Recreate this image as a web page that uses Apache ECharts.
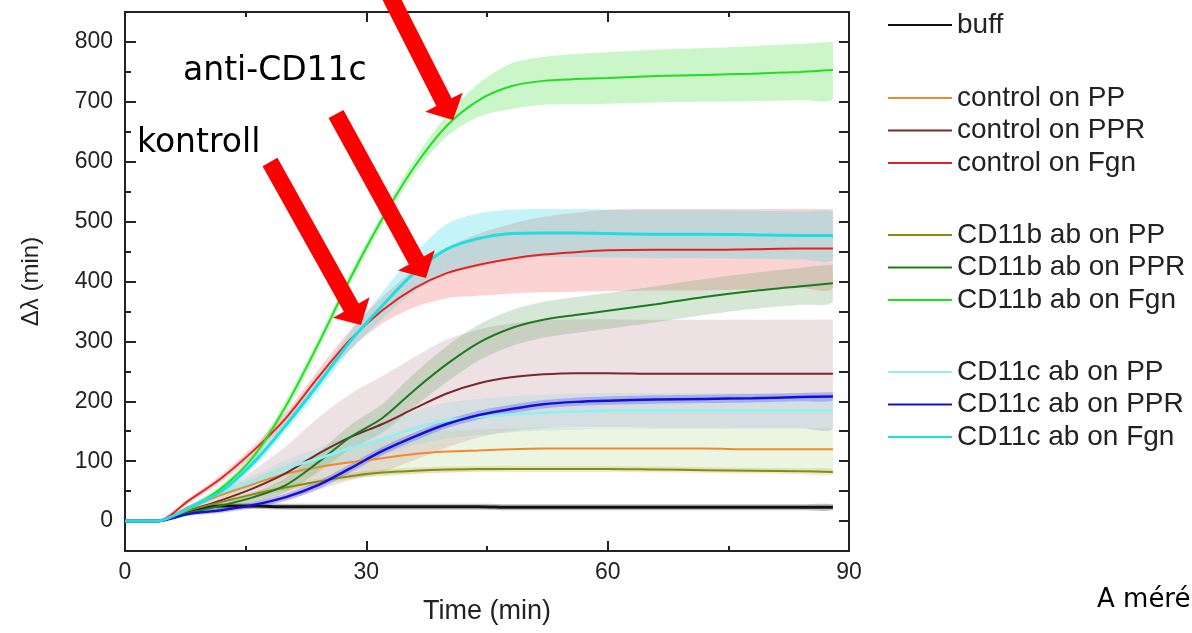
<!DOCTYPE html>
<html lang="hu">
<head>
    <meta charset="UTF-8">
    <title>Kötődési görbék</title>
    <style>
        body {
            margin: 0;
            padding: 0;
            background: #ffffff;
        }

        #chart-container {
            width: 1192px;
            height: 633px;
        }
    </style>
    <script src="https://cdn.jsdelivr.net/npm/echarts@6.0.0/dist/echarts.min.js"></script>
</head>
<body>
    <div id="chart-container"></div>

    <script>
        // time points (min)
        const times = [0, 4, 8, 12, 16, 20, 24, 28, 32, 36, 40, 44, 48, 52, 56, 60, 66, 72, 78, 84, 88];

        // mean curves
        const buff    = [0, 0, 17, 25, 25, 24, 24, 24, 24, 24, 24, 24, 23, 23, 23, 23, 23, 23, 23, 23, 23];
        const ctrlPP  = [0, 0, 24, 44, 62, 79, 90, 98, 105, 112, 116, 118, 120, 121, 121, 121, 121, 121, 120, 120, 120];
        const ctrlPPR = [0, 0, 18, 35, 55, 80, 112, 140, 162, 188, 213, 230, 240, 245, 247, 247, 246, 246, 246, 246, 246];
        const ctrlFgn = [0, 0, 35, 72, 118, 172, 240, 303, 352, 389, 414, 428, 438, 445, 449, 452, 453, 453, 454, 455, 455];
        const bPP     = [0, 0, 18, 32, 45, 56, 66, 75, 81, 84, 86, 87, 87, 87, 87, 87, 86, 85, 84, 83, 82];
        const bPPR    = [0, 0, 14, 26, 40, 60, 98, 140, 172, 219, 262, 298, 322, 336, 344, 351, 362, 374, 384, 392, 397];
        const bFgn    = [0, 0, 22, 55, 108, 192, 295, 405, 505, 592, 660, 703, 726, 735, 738, 740, 743, 745, 747, 750, 753];
        const cPP     = [0, 0, 22, 48, 66, 88, 104, 122, 137, 155, 168, 174, 178, 181, 183, 184, 184, 184, 184, 184, 184];
        const cPPR    = [0, 0, 12, 18, 27, 40, 60, 88, 117, 141, 162, 177, 187, 195, 199, 201, 203, 204, 205, 207, 208];
        const cFgn    = [0, 0, 22, 50, 98, 160, 228, 300, 360, 415, 454, 472, 480, 481, 481, 480, 479, 479, 478, 477, 477];

        // half widths of the shaded bands
        const buffSd    = [2, 2, 3, 5, 5, 5, 5, 5, 5, 5, 5, 5, 5, 5, 5, 5, 5, 5, 5, 5, 5];
        const ctrlPPSd  = [1, 1, 3, 6, 10, 15, 20, 25, 30, 34, 35, 35, 35, 35, 35, 35, 35, 35, 35, 35, 35];
        const ctrlPPRSd = [1, 1, 5, 15, 30, 45, 60, 72, 80, 86, 90, 90, 90, 90, 90, 90, 90, 90, 90, 90, 90];
        const ctrlFgnSd = [1, 1, 4, 6, 8, 10, 12, 16, 22, 32, 42, 52, 58, 63, 66, 68, 68, 68, 67, 66, 66];
        const bPPSd     = [1, 1, 2, 3, 4, 5, 5, 5, 5, 5, 5, 5, 5, 5, 5, 5, 5, 5, 5, 5, 5];
        const bPPRSd    = [1, 1, 3, 5, 8, 12, 16, 20, 24, 28, 30, 30, 30, 30, 30, 30, 30, 30, 30, 31, 31];
        const bFgnSd    = [1, 1, 4, 6, 8, 10, 10, 10, 10, 12, 18, 28, 38, 40, 42, 43, 44, 45, 46, 47, 47];
        const cPPSd     = [1, 1, 3, 6, 10, 14, 18, 22, 25, 28, 30, 30, 30, 30, 30, 30, 30, 30, 30, 30, 30];
        const cPPRSd    = [1, 1, 3, 4, 5, 6, 7, 7, 7, 7, 7, 7, 7, 7, 7, 7, 7, 7, 7, 7, 7];
        const cFgnSd    = [1, 1, 4, 6, 8, 10, 12, 15, 22, 32, 42, 42, 40, 40, 40, 40, 40, 40, 40, 40, 40];

        const names = ['buff',
            'control on PP', 'control on PPR', 'control on Fgn',
            'CD11b ab on PP', 'CD11b ab on PPR', 'CD11b ab on Fgn',
            'CD11c ab on PP', 'CD11c ab on PPR', 'CD11c ab on Fgn'];

        const xTicks = [0, 30, 60, 90];
        const yTicks = [0, 100, 200, 300, 400, 500, 600, 700, 800];
        const yMinorTicks = [50, 150, 250, 350, 450, 550, 650, 750];

        const means = [buff, ctrlPP, ctrlPPR, ctrlFgn, bPP, bPPR, bFgn, cPP, cPPR, cFgn];
        const spreads = [buffSd, ctrlPPSd, ctrlPPRSd, ctrlFgnSd, bPPSd, bPPRSd, bFgnSd, cPPSd, cPPRSd, cFgnSd];

        const lineColors = ['#111111', '#f08a30', '#7a2828', '#e82020', '#8a8a10', '#1d7a1d',
            '#22dd22', '#90f0f0', '#1010d8', '#20dde0'];
        const lineWidths = [3, 2, 2, 2, 2, 2, 2, 2.5, 2.5, 3];
        const bandColors = ['rgba(0,0,0,0.25)', 'rgba(200,225,170,0.35)', 'rgba(205,170,175,0.35)',
            'rgba(245,110,110,0.3)', 'rgba(160,160,40,0.2)', 'rgba(90,160,90,0.25)',
            'rgba(80,225,80,0.3)', 'rgba(140,215,215,0.25)', 'rgba(70,70,255,0.3)', 'rgba(60,220,230,0.3)'];

        const FONT = 'Liberation Sans';

        function pairs(vals) {
            return times.map((t, i) => [t, vals[i]]);
        }

        let series = [];

        // shaded bands: one polygon per curve (mean +- spread)
        for (let i = 0; i < means.length; i++) {
            series.push({
                type: 'custom',
                name: '_band' + i,
                silent: true,
                clip: true,
                z: 1,
                data: times.map((t, j) => [t, means[i][j] - spreads[i][j], means[i][j] + spreads[i][j]]),
                encode: { x: 0, y: [1, 2] },
                renderItem: function (params, api) {
                    if (params.dataIndex !== 0) {
                        return null;
                    }
                    let up = [];
                    let lo = [];
                    for (let j = 0; j < times.length; j++) {
                        up.push(api.coord([times[j], means[i][j] + spreads[i][j]]));
                        lo.push(api.coord([times[j], means[i][j] - spreads[i][j]]));
                    }
                    let pts = up.concat(lo.reverse());
                    let xs = pts.map(p => p[0]);
                    let ys = pts.map(p => p[1]);
                    let box = [[Math.min(...xs), Math.min(...ys)], [Math.max(...xs), Math.max(...ys)]];
                    return {
                        type: 'polygon',
                        shape: { points: pts, smooth: 0.3, smoothConstraint: box },
                        style: { fill: bandColors[i] }
                    };
                }
            });
        }

        // mean lines
        for (let i = 0; i < means.length; i++) {
            series.push({
                type: 'line',
                name: names[i],
                data: pairs(means[i]),
                smooth: 0.3,
                symbol: 'none',
                itemStyle: { color: lineColors[i] },
                lineStyle: { color: lineColors[i], width: lineWidths[i] },
                z: 3
            });
        }

        // red arrows (slide annotations)
        function arrow(tail, tip) {
            let dx = tip[0] - tail[0], dy = tip[1] - tail[1];
            let len = Math.sqrt(dx * dx + dy * dy);
            let ux = dx / len, uy = dy / len;
            let nx = -uy, ny = ux;
            let w = 8.5, hw = 21, hl = 20;
            let bx = tip[0] - ux * hl, by = tip[1] - uy * hl;
            return {
                type: 'polygon',
                z: 100,
                shape: {
                    points: [
                        [tail[0] + nx * w, tail[1] + ny * w],
                        [bx + nx * w, by + ny * w],
                        [bx + nx * hw, by + ny * hw],
                        tip,
                        [bx - nx * hw, by - ny * hw],
                        [bx - nx * w, by - ny * w],
                        [tail[0] - nx * w, tail[1] - ny * w]
                    ]
                },
                style: { fill: '#ff0000' }
            };
        }

        const legendCommon = {
            orient: 'vertical',
            left: 888,
            icon: 'rect',
            itemWidth: 64,
            itemHeight: 2,
            itemGap: 2.5,
            padding: 0,
            selectedMode: false,
            textStyle: { fontSize: 28, color: '#222', fontFamily: FONT, lineHeight: 30 }
        };

        const axisLineStyle = { color: '#222', width: 2 };

        var chart = echarts.init(document.getElementById('chart-container'));

        var option = {
            animation: false,
            backgroundColor: '#ffffff',
            textStyle: { fontFamily: FONT },
            grid: { left: 125, top: 12, right: 343, bottom: 82 },
            legend: [
                Object.assign({}, legendCommon, { top: 10, data: names.slice(0, 1) }),
                Object.assign({}, legendCommon, { top: 83, data: names.slice(1, 4) }),
                Object.assign({}, legendCommon, { top: 220, data: names.slice(4, 7) }),
                Object.assign({}, legendCommon, { top: 357, data: names.slice(7, 10) })
            ],
            xAxis: [
                {
                    type: 'value',
                    position: 'bottom',
                    min: 0,
                    max: 90,
                    interval: 30,
                    name: 'Time (min)',
                    nameLocation: 'middle',
                    nameGap: 47,
                    nameTextStyle: { fontSize: 27, color: '#222', fontFamily: FONT },
                    axisLine: { onZero: false, lineStyle: axisLineStyle },
                    axisTick: { inside: true, length: 10, customValues: xTicks, lineStyle: axisLineStyle },
                    minorTick: { show: true, splitNumber: 2, length: 5, lineStyle: axisLineStyle },
                    splitLine: { show: false },
                    axisLabel: { fontSize: 23, color: '#222', margin: 10, customValues: xTicks }
                },
                {
                    type: 'value',
                    position: 'top',
                    min: 0,
                    max: 90,
                    interval: 30,
                    axisLine: { onZero: false, lineStyle: axisLineStyle },
                    axisTick: { inside: true, length: 10, lineStyle: axisLineStyle },
                    minorTick: { show: true, splitNumber: 2, length: 5, lineStyle: axisLineStyle },
                    splitLine: { show: false },
                    axisLabel: { show: false }
                }
            ],
            yAxis: [
                {
                    type: 'value',
                    position: 'left',
                    min: -50,
                    max: 850,
                    interval: 50,
                    name: '\u0394\u03bb (min)',
                    nameLocation: 'middle',
                    nameGap: 82,
                    nameTextStyle: { fontSize: 24, color: '#222', fontFamily: FONT },
                    axisLine: { onZero: false, lineStyle: axisLineStyle },
                    axisTick: { inside: true, length: 11, customValues: yTicks, lineStyle: axisLineStyle },
                    splitLine: { show: false },
                    axisLabel: { fontSize: 23, color: '#222', margin: 12, customValues: yTicks }
                },
                {
                    type: 'value',
                    position: 'left',
                    min: -50,
                    max: 850,
                    interval: 50,
                    axisLine: { show: false, onZero: false },
                    axisTick: { inside: true, length: 6, customValues: yMinorTicks, lineStyle: axisLineStyle },
                    splitLine: { show: false },
                    axisLabel: { show: false }
                },
                {
                    type: 'value',
                    position: 'right',
                    min: -50,
                    max: 850,
                    interval: 50,
                    axisLine: { onZero: false, lineStyle: axisLineStyle },
                    axisTick: { inside: true, length: 10, customValues: yTicks.concat(yMinorTicks), lineStyle: axisLineStyle },
                    splitLine: { show: false },
                    axisLabel: { show: false }
                }
            ],
            graphic: [
                arrow([386, -12], [453, 120]),
                arrow([336, 114], [426, 278]),
                arrow([270, 162], [361, 325]),
                {
                    type: 'text', x: 183, y: 71, z: 100,
                    style: { text: 'anti-CD11c', font: '33px "DejaVu Sans"', fill: '#000', verticalAlign: 'middle' }
                },
                {
                    type: 'text', x: 137, y: 143, z: 100,
                    style: { text: 'kontroll', font: '33px "DejaVu Sans"', fill: '#000', verticalAlign: 'middle' }
                },
                {
                    type: 'text', x: 1097, y: 600, z: 100,
                    style: { text: 'A méré', font: '26px "DejaVu Sans"', fill: '#000', verticalAlign: 'middle' }
                }
            ],
            series: series
        };

        chart.setOption(option);
    </script>
</body>
</html>
